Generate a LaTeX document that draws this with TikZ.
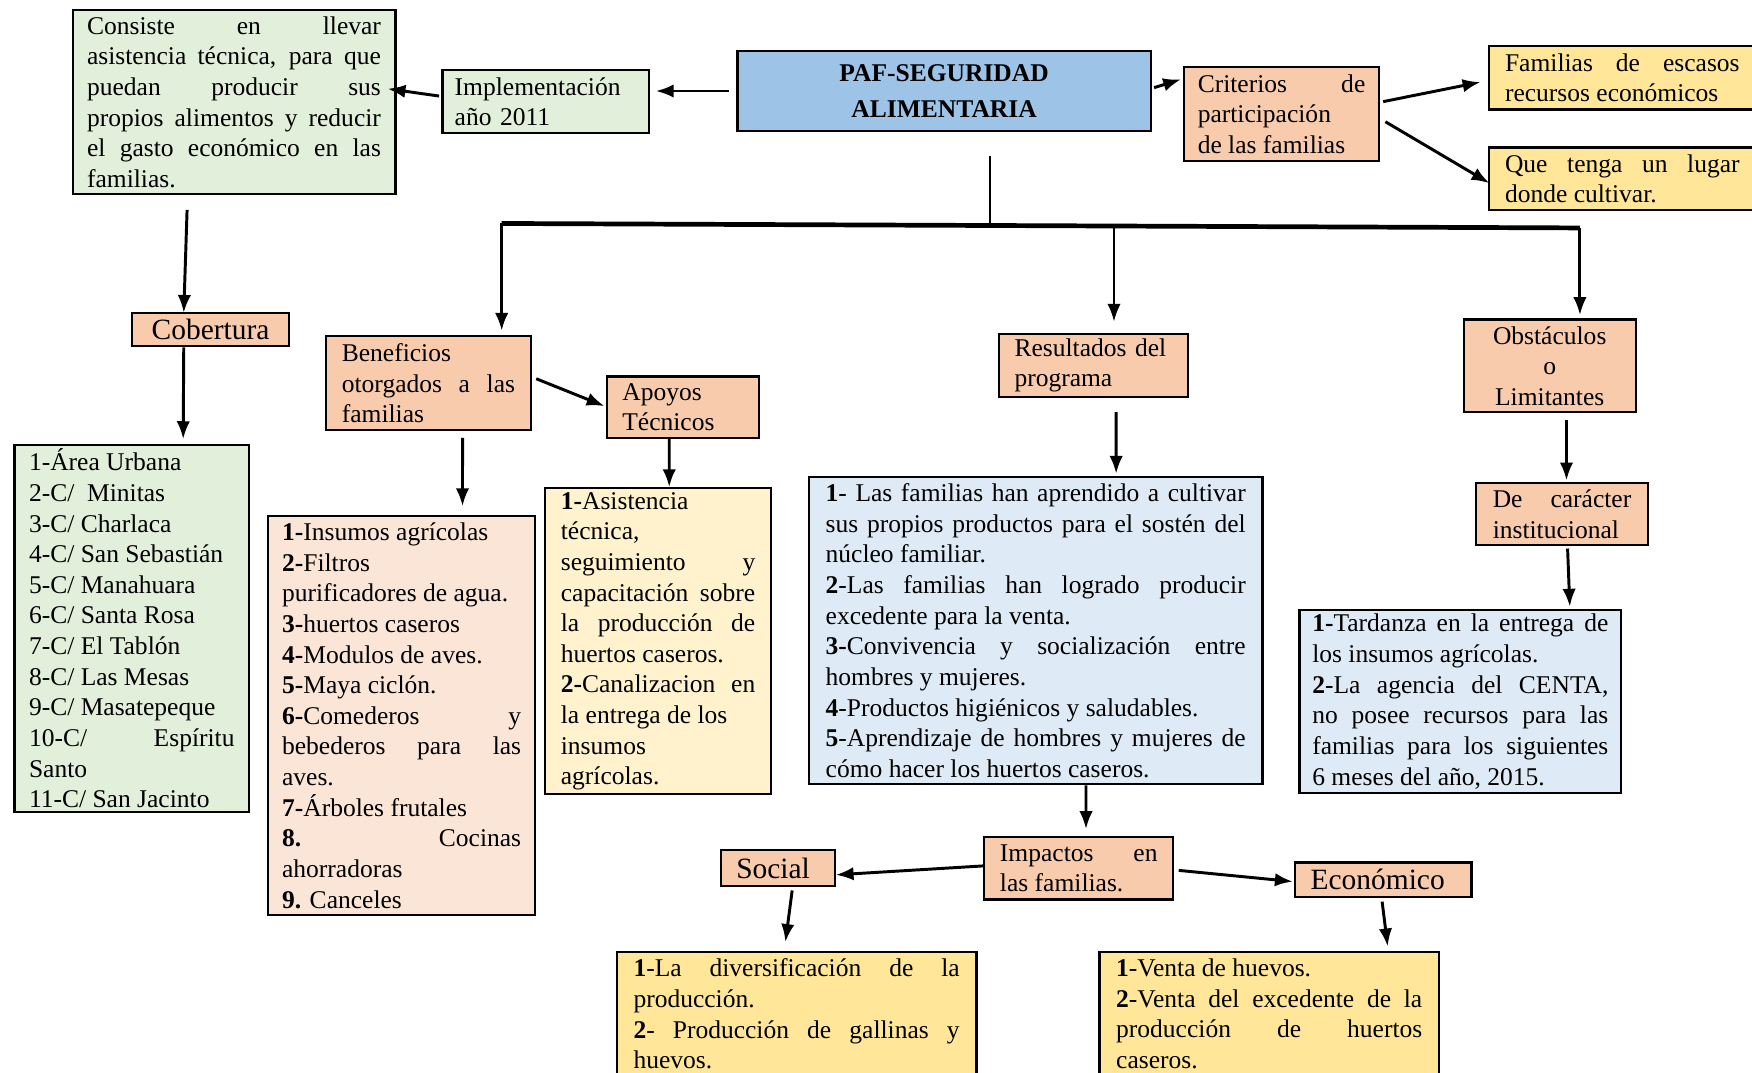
\documentclass[tikz,border=0pt]{standalone}
\usepackage{fontspec}
\setmainfont{Liberation Serif}
\usepackage{tikz}
\usetikzlibrary{arrows.meta,calc}
\definecolor{verde}{HTML}{E2EFDA}
\definecolor{azul}{HTML}{9DC3E6}
\definecolor{naranja}{HTML}{F8CBAD}
\definecolor{amarillo}{HTML}{FFE699}
\definecolor{rosa}{HTML}{FBE5D6}
\definecolor{crema}{HTML}{FFF2CC}
\definecolor{celeste}{HTML}{DEEBF7}
\setlength{\parindent}{0pt}

\begin{document}
\begin{tikzpicture}[x=0.02cm, y=-0.02cm, font=\fontsize{13}{15.6}\selectfont,
  box/.style={draw, line width=1.1pt, anchor=north west, inner ysep=1pt, align=justify},
  big/.style={font=\fontsize{15}{18}\selectfont},
  arr/.style={-{Latex[length=0.32cm,width=0.24cm]}, line width=1.5pt}]
	\useasboundingbox (0,0) rectangle (1568,960);

	% top row
	\node[box, fill=verde, text width=5.26cm, inner xsep=0.26cm, minimum height=3.3cm] (consiste) at (64,8)
		{Consiste en llevar\linebreak asistencia técnica, para que\linebreak puedan producir sus\linebreak propios alimentos y reducir\linebreak el gasto económico en las\linebreak familias.};
	\node[box, fill=verde, align=left, text width=3.26cm, inner xsep=0.22cm, minimum height=1.12cm] (impl) at (395,62)
		{Implementación\\ año 2011};
	\node[box, fill=azul, align=center, text width=6.8cm, inner xsep=0.3cm, minimum height=1.42cm, font=\fontsize{13}{15.6}\selectfont\bfseries] (paf) at (659,45)
		{PAF-SEGURIDAD\\[3pt] ALIMENTARIA};
	\node[box, fill=naranja, text width=3.0cm, inner xsep=0.24cm, minimum height=1.68cm] (crit) at (1059,59)
		{Criterios de\linebreak participación\\ de las familias};
	\node[box, fill=amarillo, text width=4.2cm, inner xsep=0.28cm, minimum height=1.14cm] (fam) at (1332,40)
		{Familias de escasos\linebreak recursos económicos};
	\node[box, fill=amarillo, text width=4.2cm, inner xsep=0.28cm, minimum height=1.12cm] (que) at (1332,131)
		{Que tenga un lugar\linebreak donde cultivar.};

	% ramas
	\node[box, big, fill=naranja, align=center, text width=2.3cm, inner xsep=0.26cm, minimum height=0.6cm] (cob) at (117,279) {Cobertura};
	\node[box, fill=verde, text width=3.68cm, inner xsep=0.26cm, minimum height=6.58cm] (coblist) at (12,397)
		{1-Área Urbana\\ 2-C/~ Minitas\\ 3-C/ Charlaca\\ 4-C/ San Sebastián\\ 5-C/ Manahuara\\ 6-C/ Santa Rosa\\ 7-C/ El Tablón\\ 8-C/ Las Mesas\\ 9-C/ Masatepeque\\ 10-C/ Espíritu\linebreak Santo\\ 11-C/ San Jacinto};
	\node[box, fill=naranja, text width=3.1cm, inner xsep=0.28cm, minimum height=1.68cm] (benef) at (291,300)
		{Beneficios\\ otorgados a las\linebreak familias};
	\node[box, fill=naranja, align=left, text width=2.16cm, inner xsep=0.28cm, minimum height=1.1cm] (apoyos) at (542,336)
		{Apoyos\\ Técnicos};
	\node[box, fill=rosa, text width=4.28cm, inner xsep=0.25cm, minimum height=7.14cm] (benlist) at (239,461)
		{\textbf{1-}Insumos agrícolas\\ \textbf{2-}Filtros\\ purificadores de agua.\\ \textbf{3-}huertos caseros\\ \textbf{4-}Modulos de aves.\\ \textbf{5-}Maya ciclón.\\ \textbf{6-}Comederos y\linebreak bebederos para las\linebreak aves.\\ \textbf{7-}Árboles frutales\\ \textbf{8.} Cocinas\linebreak ahorradoras\\ \textbf{9.} Canceles};
	\node[box, fill=crema, text width=3.48cm, inner xsep=0.28cm, minimum height=5.48cm] (aplist) at (487,436)
		{\textbf{1-}Asistencia\\ técnica,\\ seguimiento y\linebreak capacitación sobre\linebreak la producción de\linebreak huertos caseros.\\ \textbf{2-}Canalizacion en\linebreak la entrega de los\\ insumos\\ agrícolas.};
	\node[box, fill=naranja, align=left, text width=2.82cm, inner xsep=0.28cm, minimum height=1.12cm] (res) at (893,298)
		{Resultados del\\ programa};
	\node[box, fill=celeste, text width=7.52cm, inner xsep=0.3cm, minimum height=5.5cm] (reslist) at (723,426)
		{\textbf{1}- Las familias han aprendido a cultivar\linebreak sus propios productos para el sostén del\linebreak núcleo familiar.\\ \textbf{2}-Las familias han logrado producir\linebreak excedente para la venta.\\ \textbf{3-}Convivencia y socialización entre\linebreak hombres y mujeres.\\ \textbf{4}-Productos higiénicos y saludables.\\ \textbf{5}-Aprendizaje de hombres y mujeres de\linebreak cómo hacer los huertos caseros.};
	\node[box, fill=naranja, align=center, text width=2.68cm, inner xsep=0.2cm, minimum height=1.66cm] (obs) at (1309,285)
		{Obstáculos\\ o\\ Limitantes};
	\node[box, fill=naranja, text width=2.48cm, inner xsep=0.3cm, minimum height=1.12cm] (dec) at (1320,431)
		{De carácter\linebreak institucional};
	\node[box, fill=celeste, text width=5.3cm, inner xsep=0.23cm, minimum height=3.28cm] (obslist) at (1162,545)
		{\textbf{1-}Tardanza en la entrega de\linebreak los insumos agrícolas.\\ \textbf{2}-La agencia del CENTA,\linebreak no posee recursos para las\linebreak familias para los siguientes\linebreak 6 meses del año, 2015.};

	% impactos
	\node[box, fill=naranja, text width=2.82cm, inner xsep=0.28cm, minimum height=1.12cm] (imp) at (880,748)
		{Impactos en\linebreak las familias.};
	\node[box, big, fill=naranja, align=left, text width=1.48cm, inner xsep=0.28cm, minimum height=0.64cm] (soc) at (644,760) {Social};
	\node[box, big, fill=naranja, align=left, text width=2.6cm, inner xsep=0.28cm, minimum height=0.62cm] (eco) at (1158,771) {Económico};
	\node[box, fill=amarillo, text width=5.84cm, inner xsep=0.3cm, minimum height=2.22cm] (soclist) at (551,851)
		{\textbf{1}-La diversificación de la\linebreak producción.\\ \textbf{2}- Producción de gallinas y\linebreak huevos.};
	\node[box, fill=amarillo, text width=5.48cm, inner xsep=0.3cm, minimum height=2.22cm] (ecolist) at (983,851)
		{\textbf{1}-Venta de huevos.\\ \textbf{2}-Venta del excedente de la\linebreak producción de huertos\linebreak caseros.};

	% conectores arriba
	\draw[arr, shorten <=0.14cm, shorten >=0.1cm] (paf.west) -- (paf.west -| impl.east);
	\draw[arr] ($(impl.west)+(-2,-5)$) -- ($(consiste.east)+(-8,-12)$);
	\draw[arr] ($(paf.east)+(2,-3)$) -- ($(crit.west)+(-2,-31)$);
	\draw[arr] ($(crit.east)+(3,-11)$) -- ($(fam.west)+(-7,4)$);
	\draw[arr] ($(crit.east)+(5,7)$) -- ($(que.west)+(1,4)$);

	% barra
	\coordinate (hub) at (886,201);
	\coordinate (barL) at (449,200);
	\coordinate (barM) at (997,202);
	\coordinate (barR) at (1414,204);
	\draw[line width=1.4pt, shorten <=0.44cm] (hub |- paf.south) -- (hub);
	\draw[line width=2.4pt] (barL) -- (barR);
	\draw[arr, shorten >=0.08cm] (barL) -- (barL |- benef.north);
	\draw[arr, shorten >=0.2cm] (barM) -- (barM |- res.north);
	\draw[arr, shorten >=0.06cm] (barR) -- (barR |- obs.north);

	% conectores abajo
	\draw[arr] ($(consiste.south)+(-42,13)$) -- ($(cob.north)+(-24,1)$);
	\draw[arr] ($(cob.south)+(-24,0)$) -- ($(coblist.north)+(46,-4)$);
	\draw[arr] ($(benef.east)+(4,-4)$) -- ($(apoyos.west)+(-1,-1)$);
	\draw[arr] ($(benef.south)+(30.5,6)$) -- ($(benlist.north)+(54.5,-8)$);
	\draw[arr] ($(apoyos.south)+(-12,0)$) -- ($(aplist.north)+(10,0)$);
	\draw[arr] ($(res.south)+(20.5,13)$) -- ($(reslist.north)+(72,-2)$);
	\draw[arr] ($(obs.south)+(15,6)$) -- ($(dec.north)+(4,-1)$);
	\draw[arr] ($(dec.south)+(5,2)$) -- ($(obslist.north)+(98,-2)$);
	\draw[arr] ($(reslist.south)+(45,0)$) -- ($(imp.north)+(6.5,-6)$);
	\draw[arr] ($(imp.west)+(0,-2)$) -- ($(soc.east)+(0,6)$);
	\draw[arr] ($(imp.east)+(4,2)$) -- ($(eco.west)+(-1,1.5)$);
	\draw[arr] ($(soc.south)+(13,3)$) -- ($(soclist.north)+(-10,-8)$);
	\draw[arr] ($(eco.south)+(-1,3)$) -- ($(ecolist.north)+(106,-4)$);
\end{tikzpicture}
\end{document}
